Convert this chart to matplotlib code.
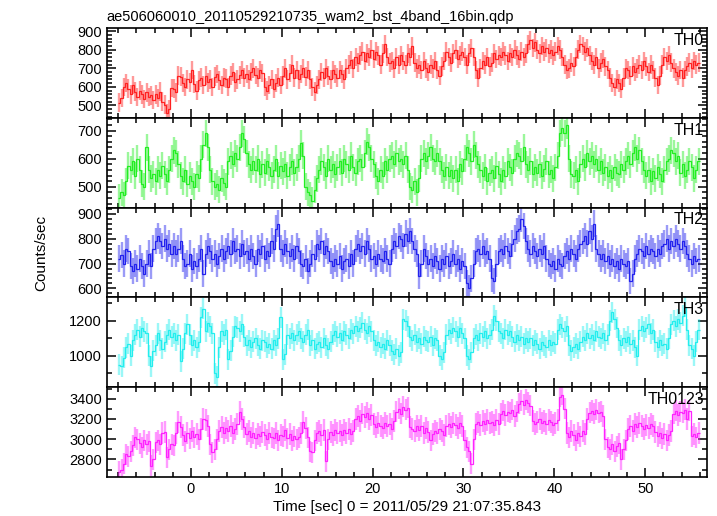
import numpy as np
import matplotlib
matplotlib.use('Agg')
import matplotlib.pyplot as plt
from matplotlib.ticker import MultipleLocator

plt.rcParams['font.family'] = ['Liberation Sans', 'DejaVu Sans']

# time bins: 0.25 s starting at -8 s
t_start = -8.0
bin_width = 0.25

# count rates (4 bins per second, -8 s .. 56 s)
th0 = [
    515, 540, 600, 620, 590, 560, 610, 575, 545, 580, 560, 535, 570, 545, 555, 530,
    560, 540, 575, 520, 505, 460, 480, 595, 590, 570, 660, 655, 620, 600, 640, 625,
    690, 615, 580, 635, 650, 610, 660, 625, 640, 600, 655, 670, 635, 610, 650, 645,
    600, 660, 680, 625, 640, 665, 690, 650, 670, 640, 680, 700, 665, 650, 690, 675,
    600, 580, 610, 640, 590, 620, 650, 610, 660, 700, 640, 675, 720, 650, 690, 640,
    670, 700, 655, 690, 640, 600, 575, 610, 640, 680, 650, 700, 660, 640, 690, 670,
    650, 690, 670, 640, 700, 720, 745, 700, 760, 730, 770, 790, 740, 780, 760, 800,
    750, 790, 770, 720, 780, 830, 760, 730, 740, 700, 760, 720, 770, 740, 720, 780,
    760, 820, 730, 700, 720, 690, 740, 700, 680, 720, 700, 740, 690, 660, 710, 740,
    790, 760, 730, 780, 800, 750, 770, 790, 760, 720, 780, 810, 760, 690, 650, 700,
    740, 720, 760, 710, 730, 780, 750, 770, 760, 790, 770, 740, 780, 760, 800, 770,
    750, 790, 760, 780, 830, 850, 810, 840, 800, 780, 820, 790, 810, 780, 800, 770,
    790, 820, 800, 760, 720, 690, 700, 730, 710, 760, 800, 830, 820, 790, 810, 770,
    740, 720, 760, 700, 730, 750, 710, 690, 650, 620, 600, 640, 620, 590, 650, 700,
    690, 660, 710, 680, 700, 720, 690, 740, 710, 680, 720, 690, 650, 610, 660, 720,
    760, 740, 770, 730, 700, 680, 660, 690, 650, 690, 710, 730, 700, 740, 720, 730,
]
th1 = [
    460, 480, 470, 520, 575, 560, 590, 540, 600, 560, 510, 500, 640, 560, 530, 545,
    520, 560, 540, 575, 545, 520, 560, 600, 630, 620, 580, 540, 520, 560, 510, 540,
    520, 500, 545, 530, 600, 650, 690, 640, 560, 520, 500, 510, 490, 530, 515, 500,
    590, 610, 580, 620, 600, 640, 690, 670, 620, 580, 560, 590, 560, 600, 545, 580,
    550, 590, 570, 540, 560, 600, 540, 575, 555, 580, 540, 570, 590, 550, 570, 600,
    655, 610, 500, 480, 470, 450, 490, 530, 560, 590, 570, 540, 600, 560, 580, 545,
    570, 590, 550, 600, 580, 560, 610, 570, 550, 590, 600, 570, 620, 660, 640, 600,
    580, 540, 520, 560, 540, 590, 560, 600, 610, 580, 620, 590, 600, 580, 610, 560,
    500, 490, 520, 480, 530, 600, 620, 590, 610, 640, 600, 590, 620, 590, 560, 540,
    570, 540, 560, 530, 560, 520, 580, 555, 600, 640, 620, 590, 650, 610, 580, 560,
    540, 570, 520, 550, 560, 530, 575, 545, 520, 560, 540, 590, 570, 550, 600, 620,
    610, 590, 640, 580, 560, 590, 545, 570, 550, 580, 540, 565, 590, 545, 560, 530,
    570, 610, 690, 710, 690, 720, 600, 545, 540, 560, 520, 580, 600, 570, 620, 590,
    610, 580, 600, 560, 590, 550, 570, 540, 560, 530, 570, 550, 545, 580, 560, 590,
    610, 580, 620, 640, 600, 630, 590, 560, 540, 560, 520, 555, 530, 570, 545, 520,
    560, 590, 600, 630, 620, 590, 610, 550, 580, 540, 560, 590, 570, 530, 560, 590,
]
th2 = [
    720, 735, 700, 760, 750, 690, 670, 700, 680, 720, 690, 660, 700, 740, 690, 760,
    790, 810, 790, 770, 800, 760, 780, 740, 770, 740, 760, 790, 720, 690, 700, 740,
    680, 710, 690, 720, 760, 660, 740, 770, 750, 720, 740, 700, 730, 760, 720, 750,
    770, 740, 790, 750, 760, 730, 780, 740, 750, 720, 760, 730, 700, 760, 740, 770,
    720, 750, 730, 790, 760, 840, 860, 760, 740, 780, 750, 730, 760, 720, 770, 750,
    700, 690, 720, 670, 700, 740, 720, 780, 760, 790, 740, 770, 750, 710, 690, 720,
    700, 730, 680, 710, 720, 690, 740, 700, 760, 780, 750, 770, 740, 790, 760, 720,
    730, 700, 740, 720, 710, 750, 720, 700, 760, 790, 770, 810, 800, 770, 820, 790,
    830, 790, 760, 740, 650, 700, 760, 730, 700, 720, 690, 730, 710, 680, 720, 700,
    730, 690, 710, 740, 700, 720, 680, 710, 690, 620, 600, 640, 700, 750, 760, 740,
    770, 740, 750, 720, 640, 630, 700, 750, 760, 740, 770, 750, 730, 780, 800, 830,
    840, 880, 850, 790, 760, 740, 770, 750, 730, 760, 740, 770, 720, 700, 690, 710,
    680, 720, 700, 690, 730, 750, 720, 760, 740, 720, 760, 780, 790, 810, 780, 830,
    800, 860, 760, 740, 720, 740, 710, 730, 700, 720, 690, 710, 680, 720, 700, 690,
    710, 630, 660, 720, 740, 760, 750, 730, 770, 740, 760, 750, 730, 760, 740, 770,
    780, 800, 760, 790, 770, 800, 780, 760, 790, 770, 740, 720, 700, 730, 710, 720,
]
th3 = [
    950, 940, 990, 1050, 1070, 1000, 1090, 1120, 1150, 1110, 1160, 1140, 1130, 1000, 940, 1030,
    1060, 1130, 1090, 1040, 1080, 1120, 1150, 1110, 1130, 1090, 1120, 970, 1040, 1130, 1180, 1120,
    1060, 1090, 1050, 1080, 1220, 1270, 1140, 1190, 1170, 1130, 900, 880, 1050, 1140, 1120, 1150,
    980, 1030, 1110, 1170, 1160, 1140, 1180, 1110, 1060, 1090, 1050, 1080, 1100, 1060, 1040, 1090,
    1080, 1050, 1070, 1040, 1090, 1060, 1100, 1220, 980, 1010, 1120, 1100, 1130, 1090, 1120, 1140,
    1100, 1080, 1120, 1150, 1060, 1090, 1040, 1070, 1080, 1050, 1100, 1060, 1040, 1080, 1120, 1140,
    1110, 1130, 1090, 1140, 1120, 1100, 1150, 1130, 1170, 1140, 1160, 1190, 1150, 1130, 1170, 1140,
    1090, 1060, 1080, 1050, 1070, 1040, 1090, 1060, 1030, 1010, 1040, 1000, 1020, 1210, 1200, 1170,
    1110, 1090, 1120, 1080, 1100, 1070, 1110, 1090, 1080, 1110, 1060, 1100, 1090, 1000, 980, 1020,
    1120, 1150, 1130, 1160, 1140, 1110, 1160, 1130, 1100, 1000, 980, 1020, 1100, 1120, 1090, 1130,
    1110, 1140, 1100, 1120, 1150, 1230, 1200, 1140, 1130, 1100, 1150, 1120, 1140, 1110, 1080, 1120,
    1090, 1110, 1070, 1100, 1080, 1100, 1060, 1090, 1070, 1040, 1080, 1060, 1050, 1090, 1060, 1080,
    1070, 1150, 1180, 1160, 1140, 1170, 1060, 1030, 1050, 1070, 1040, 1080, 1110, 1090, 1130, 1100,
    1120, 1090, 1140, 1110, 1100, 1130, 1090, 1120, 1200, 1250, 1210, 1160, 1090, 1060, 1100, 1080,
    1110, 1070, 1090, 1050, 1000, 1150, 1170, 1140, 1160, 1180, 1130, 1150, 1080, 1050, 1090, 1060,
    1070, 1040, 1100, 1180, 1200, 1170, 1210, 1190, 1230, 1280, 1150, 1060, 1040, 1000, 1080, 1150,
]
th0123 = [
    2680, 2700, 2760, 2850, 2830, 2880, 2940, 3020, 3000, 2960, 2920, 2990, 2950, 2980, 2740, 2800,
    2970, 2990, 2950, 3060, 3070, 2820, 2900, 2950, 2940, 3060, 3170, 3120, 3040, 2980, 3060, 3010,
    3080, 3020, 3050, 3000, 3100, 3200, 3190, 3130, 2950, 2870, 2900, 3000, 3080, 3120, 3060, 3110,
    3080, 3130, 3060, 3100, 3150, 3270, 3200, 3120, 3050, 3080, 3020, 3060, 3010, 3050, 3030, 3070,
    3040, 3000, 3060, 3020, 3010, 3060, 2990, 3040, 3030, 3090, 3010, 3050, 2990, 3030, 3000, 3020,
    3060, 3170, 3110, 3020, 2880, 2870, 2990, 3060, 3080, 3040, 3090, 2780, 3000, 3070, 3040, 3090,
    3060, 3080, 3040, 3090, 3060, 3100, 3050, 3080, 3200, 3230, 3180, 3250, 3220, 3260, 3200, 3240,
    3150, 3120, 3160, 3130, 3110, 3160, 3130, 3150, 3100, 3180, 3270, 3300, 3250, 3320, 3290, 3310,
    3120, 3100, 3080, 3130, 3090, 3130, 3060, 3110, 3070, 2990, 3050, 3080, 3060, 3100, 3080, 3040,
    3130, 3150, 3120, 3160, 3140, 3110, 3160, 3130, 2990, 2920, 2880, 2760, 3000, 3150, 3170, 3140,
    3180, 3150, 3190, 3160, 3170, 3140, 3190, 3150, 3250, 3280, 3240, 3270, 3260, 3290, 3230, 3270,
    3350, 3380, 3340, 3390, 3360, 3330, 3180, 3150, 3170, 3200, 3160, 3180, 3150, 3190, 3170, 3140,
    3160, 3190, 3420, 3440, 3300, 3060, 3020, 3080, 3040, 2990, 3060, 3030, 3080, 3050, 3200, 3260,
    3280, 3250, 3290, 3260, 3270, 3230, 3000, 2920, 2900, 2950, 2880, 2930, 2960, 2800, 2900, 2990,
    3100, 3130, 3080, 3150, 3120, 3160, 3130, 3100, 3140, 3110, 3150, 3130, 3070, 3030, 3060, 3010,
    3050, 2990, 3040, 3080, 3250, 3280, 3240, 3270, 3260, 3290, 3200, 3280, 3030, 3050, 3020, 3060,
]

bands = ['TH0', 'TH1', 'TH2', 'TH3', 'TH0123']
rates = [th0, th1, th2, th3, th0123]
errors = [50, 48, 53, 60, 105]
colors = ['#ff2020', '#22ee22', '#2222ee', '#22eeee', '#ff22ff']
ylims = [(432, 915), (425, 745), (564, 924), (822, 1334), (2629, 3514)]
major = [100, 100, 100, 200, 200]
minor = [20, 20, 20, 100, 100]

fig, axes = plt.subplots(5, 1, sharex=True, figsize=(7.17, 5.16), dpi=100)
fig.subplots_adjust(left=0.149, right=0.986, top=0.945, bottom=0.076, hspace=0)

for ax, name, vals, err, col, yl, mj, mn in zip(axes, bands, rates, errors, colors, ylims, major, minor):
    vals = np.array(vals, dtype=float)
    n = len(vals)
    edges = t_start + bin_width * np.arange(n + 1)
    centers = edges[:-1] + bin_width / 2
    ax.errorbar(centers, vals, yerr=err, fmt='none', ecolor=col, elinewidth=1.7,
                alpha=0.45, capsize=0)
    ax.stairs(vals, edges, color=col, lw=0.9, baseline=None)
    ax.set_ylim(yl)
    ax.yaxis.set_major_locator(MultipleLocator(mj))
    ax.yaxis.set_minor_locator(MultipleLocator(mn))
    ax.xaxis.set_major_locator(MultipleLocator(10))
    ax.xaxis.set_minor_locator(MultipleLocator(2))
    ax.tick_params(which='both', direction='in', top=True, right=True, labelsize=10.5, width=1.1)
    ax.tick_params(which='major', length=6.5)
    ax.tick_params(which='minor', length=3.5)
    for s in ax.spines.values():
        s.set_linewidth(1.2)
    ax.text(0.995, 0.95, name, transform=ax.transAxes, ha='right', va='top', fontsize=11.5)

axes[0].set_xlim(-9.25, 56.8)
axes[0].set_title('ae506060010_20110529210735_wam2_bst_4band_16bin.qdp', loc='left',
                  fontsize=10.5, pad=5)
axes[-1].set_xlabel('Time [sec] 0 = 2011/05/29 21:07:35.843', fontsize=11, labelpad=3)
fig.text(0.058, 0.51, 'Counts/sec', rotation=90, ha='center', va='center', fontsize=11)

fig.savefig('out.png', dpi=100)
